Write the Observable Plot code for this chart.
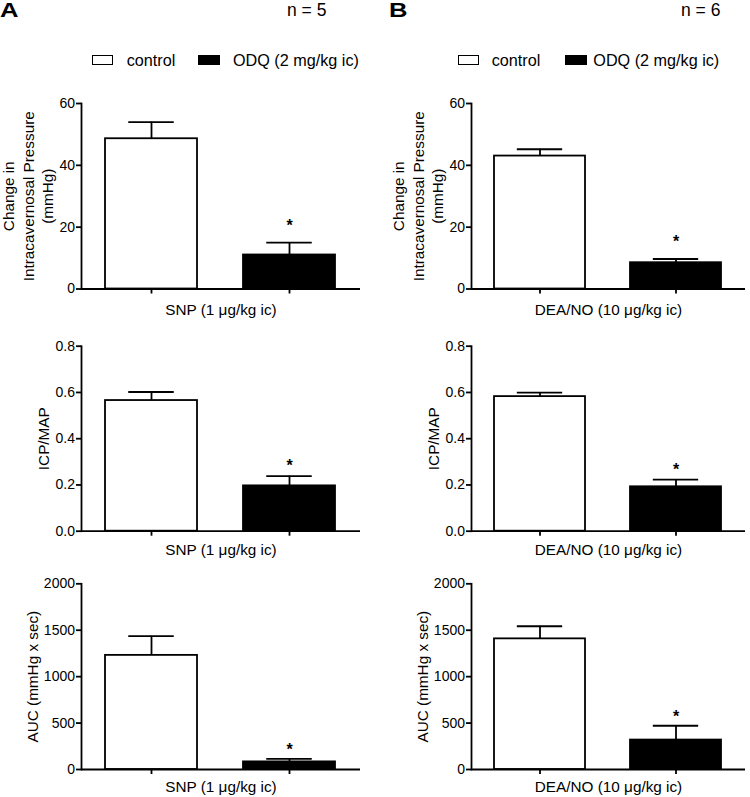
<!DOCTYPE html>
<html><head><meta charset="utf-8">
<script src="https://cdn.jsdelivr.net/npm/d3@7"></script>
<script src="https://cdn.jsdelivr.net/npm/@observablehq/plot@0.6"></script>
<style>
body{margin:0;background:#fff;}
#root{position:relative;width:750px;height:797px;font-family:Arial,"Liberation Sans",Helvetica,sans-serif;color:#000;overflow:hidden;background:#fff}
.abs{position:absolute;white-space:nowrap}
.letter{font-size:20px;line-height:20px;font-weight:bold;transform:scaleX(1.28);transform-origin:0 0}
.n{font-size:17.5px;line-height:17px}
.leg{font-size:16.2px;line-height:16px}
.sw{position:absolute;box-sizing:border-box;border:1.8px solid #000;height:9.5px}
</style></head><body><div id="root"></div>
<script>
// ---- data ----
const groups = ["control", "ODQ (2 mg/kg ic)"];
const significant = [false, true];
const panelLetters = ["A", "B"];
const nLabels = ["n = 5", "n = 6"];
const drugLabels = ["SNP (1 \u03bcg/kg ic)", "DEA/NO (10 \u03bcg/kg ic)"];
const yLabels = ["Change in\nIntracavernosal Pressure\n(mmHg)", "ICP/MAP", "AUC (mmHg x sec)"];
const yTicksIcp = [0, 20, 40, 60];
const yTicksRatio = [0, 0.2, 0.4, 0.6, 0.8];
const yTicksAuc = [0, 500, 1000, 1500, 2000];

const snpIcpMean = [48.6, 11.0];   const snpIcpSem = [5.4, 4.0];
const snpRatioMean = [0.565, 0.196]; const snpRatioSem = [0.037, 0.042];
const snpAucMean = [1229, 82];     const snpAucSem = [207, 32];
const deaIcpMean = [43.0, 8.5];    const deaIcpSem = [2.2, 1.2];
const deaRatioMean = [0.582, 0.192]; const deaRatioSem = [0.017, 0.031];
const deaAucMean = [1407, 317];    const deaAucSem = [136, 154];

// ---- layout (positions / styles) ----
const font = 'Arial, "Liberation Sans", Helvetica, sans-serif';
const lw = 1.8;
const rowsLayout = [
  {top: 80,  height: 240, mt: 23,   mb: 31.5, labelDy: 21, yLabelDx: -54,  starDy: -17},
  {top: 320, height: 240, mt: 25.7, mb: 29.3, labelDy: 19, yLabelDx: -38.5, starDy: -10},
  {top: 560, height: 237, mt: 23.3, mb: 28,   labelDy: 18, yLabelDx: -49.5, starDy: -9}
];
const colsLayout = [
  {left: 0,   ml: 81, mr: 15, letterX: 0,   nX: 287, legend: [92.3, 126.7, 198.3, 233]},
  {left: 375, ml: 96, mr: 5,  letterX: 389, nX: 681, legend: [458.3, 491.7, 565, 593.3]}
];
const rowTicks = [yTicksIcp, yTicksRatio, yTicksAuc];
const rowFormats = [d3.format("d"), d3.format(".1f"), d3.format("d")];
const seriesMeans = [[snpIcpMean, snpRatioMean, snpAucMean], [deaIcpMean, deaRatioMean, deaAucMean]];
const seriesSems = [[snpIcpSem, snpRatioSem, snpAucSem], [deaIcpSem, deaRatioSem, deaAucSem]];

const root = document.getElementById("root");
function addDiv(cls, x, y, text) {
  const d = document.createElement("div");
  d.className = "abs " + cls;
  d.style.left = x + "px"; d.style.top = y + "px";
  d.textContent = text;
  root.appendChild(d);
  return d;
}

colsLayout.forEach((col, c) => {
  addDiv("letter", col.letterX, 0, panelLetters[c]);
  addDiv("n", col.nX, 2, nLabels[c]);
  const [s1, t1, s2, t2] = col.legend;
  const w = document.createElement("div"); w.className = "sw";
  w.style.left = s1 + "px"; w.style.top = "55.3px"; w.style.width = "21px"; w.style.background = "#fff";
  root.appendChild(w);
  addDiv("leg", t1, 52, groups[0]);
  const b = document.createElement("div"); b.className = "sw";
  b.style.left = s2 + "px"; b.style.top = "55.3px"; b.style.width = "22px"; b.style.background = "#000";
  root.appendChild(b);
  addDiv("leg", t2, 52, groups[1]);

  rowsLayout.forEach((row, r) => {
    const means = seriesMeans[c][r], sems = seriesSems[c][r];
    const data = groups.map((g, i) => ({group: g, mean: means[i], hi: means[i] + sems[i], sig: significant[i]}));
    const ticks = rowTicks[r];
    const width = 375;
    const plotW = width - col.ml - col.mr;
    const bw = plotW / (2 - 0.33 + 2 * 0.17) * (1 - 0.33);
    const svg = Plot.plot({
      width, height: row.height,
      marginLeft: col.ml, marginRight: col.mr, marginTop: row.mt, marginBottom: row.mb,
      style: {fontFamily: font, fontSize: "14px", color: "#000", background: "transparent", overflow: "visible"},
      x: {type: "band", domain: groups, paddingInner: 0.33, paddingOuter: 0.17},
      y: {domain: [ticks[0], ticks[ticks.length - 1]]},
      color: {domain: groups, range: ["#fff", "#000"]},
      marks: [
        Plot.barY(data, {x: "group", y: "mean", fill: "group", stroke: "#000", strokeWidth: lw}),
        Plot.ruleX(data, {x: "group", y1: "mean", y2: "hi", stroke: "#000", strokeWidth: lw}),
        Plot.tickY(data, {x: "group", y: "hi", stroke: "#000", strokeWidth: lw, insetLeft: bw / 4, insetRight: bw / 4}),
        Plot.frame({anchor: "left", stroke: "#000", strokeWidth: lw}),
        Plot.ruleY([0], {stroke: "#000", strokeWidth: lw}),
        Plot.axisY({ticks, tickFormat: rowFormats[r], tickSize: 5, tickPadding: 1.5, strokeWidth: lw, label: null}),
        Plot.axisX({ticks: groups, tickFormat: () => "", tickSize: 5, strokeWidth: lw, label: null}),
        Plot.text(data.filter(d => d.sig), {x: "group", y: "hi", text: () => "*", dy: row.starDy, fontSize: 16, fontWeight: "bold", lineAnchor: "middle"}),
        Plot.text([drugLabels[c]], {text: d => d, frameAnchor: "bottom", dy: row.labelDy, fontSize: 15.3, lineAnchor: "middle"}),
        Plot.text([yLabels[r]], {text: d => d, frameAnchor: "left", dx: row.yLabelDx, rotate: -90, fontSize: 15.3, lineHeight: 1.27, lineAnchor: "middle", textAnchor: "middle"})
      ]
    });
    svg.style.position = "absolute";
    svg.style.left = col.left + "px";
    svg.style.top = row.top + "px";
    root.appendChild(svg);
  });
});
</script>
</body></html>
